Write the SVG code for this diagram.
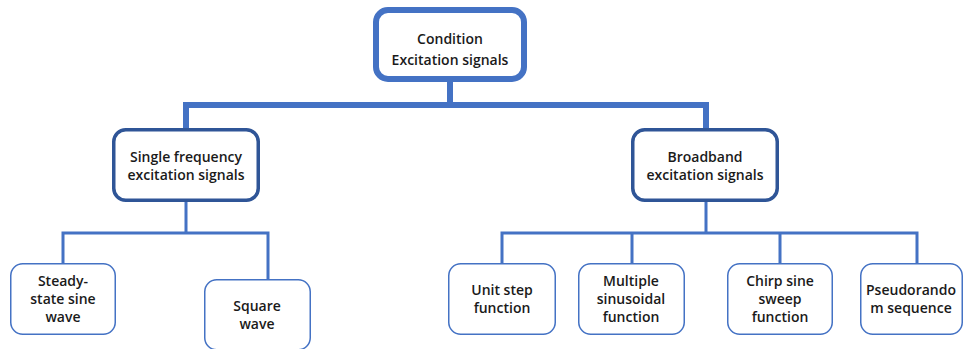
<svg xmlns="http://www.w3.org/2000/svg" width="964" height="349" viewBox="0 0 964 349">
<style>
.bg{fill:#ffffff}
.top{fill:#ffffff;stroke:#4472C4;stroke-width:6}
.mid{fill:#ffffff;stroke:#2F5597;stroke-width:3.5}
.leaf{fill:#ffffff;stroke:#4472C4;stroke-width:1.5}
.c1{fill:none;stroke:#4472C4;stroke-width:6}
.c2{fill:none;stroke:#4472C4;stroke-width:3}
text{font-family:"Open Sans","Liberation Sans",sans-serif;font-weight:600;font-size:14px;fill:#1a1a1a;text-anchor:middle}
</style>
<rect class="bg" x="0" y="0" width="964" height="349"/>
<g id="connectors">
<path class="c1" d="M450 82 V105 M186 129 V105 H706 V129"/>
<path class="c2" d="M186 202 V233 M63 263 V233 H268 V279"/>
<path class="c2" d="M706 202 V233 M502 263 V233 H917 V263 M632 233 V263 M780 233 V263"/>
</g>
<g id="root">
<rect class="top" x="376" y="10" width="148" height="69" rx="12"/>
<text x="450" y="44">Condition</text>
<text x="450" y="65">Excitation signals</text>
</g>
<g id="single">
<rect class="mid" x="113.75" y="129.75" width="144.5" height="70.5" rx="12"/>
<text x="186" y="162">Single frequency</text>
<text x="186" y="180">excitation signals</text>
</g>
<g id="broadband">
<rect class="mid" x="632.75" y="129.75" width="144.5" height="70.5" rx="12"/>
<text x="705" y="162">Broadband</text>
<text x="705" y="180">excitation signals</text>
</g>
<g id="steady">
<rect class="leaf" x="10.75" y="263.75" width="104.5" height="70.5" rx="12"/>
<text x="63" y="286">Steady-</text>
<text x="63" y="304">state sine</text>
<text x="63" y="322">wave</text>
</g>
<g id="square">
<rect class="leaf" x="204.75" y="279.75" width="105.5" height="70" rx="12"/>
<text x="257" y="311">Square</text>
<text x="257" y="329">wave</text>
</g>
<g id="unitstep">
<rect class="leaf" x="448.75" y="263.75" width="106.5" height="70.5" rx="12"/>
<text x="502" y="295">Unit step</text>
<text x="502" y="313">function</text>
</g>
<g id="multiple">
<rect class="leaf" x="578.75" y="263.75" width="105.5" height="70.5" rx="12"/>
<text x="631" y="286">Multiple</text>
<text x="631" y="304">sinusoidal</text>
<text x="631" y="322">function</text>
</g>
<g id="chirp">
<rect class="leaf" x="727.75" y="263.75" width="104.5" height="70.5" rx="12"/>
<text x="780" y="286">Chirp sine</text>
<text x="780" y="304">sweep</text>
<text x="780" y="322">function</text>
</g>
<g id="pseudo">
<rect class="leaf" x="860.75" y="263.75" width="101.5" height="70.5" rx="12"/>
<text x="911" y="295">Pseudorando</text>
<text x="911" y="313">m sequence</text>
</g>
</svg>
